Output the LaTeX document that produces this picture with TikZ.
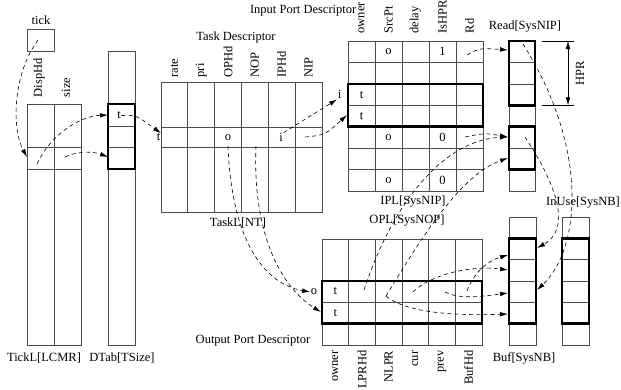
\documentclass[tikz,border=0pt]{standalone}
\usepackage{fontspec}
\setmainfont{Liberation Serif}
\usetikzlibrary{arrows.meta}
\begin{document}
\begin{tikzpicture}[x=1pt,y=-1pt,
 lbl/.style={font=\fontsize{12.5}{14}\selectfont, inner sep=0.5pt},
 vlbl/.style={lbl, rotate=90, anchor=west},
 vlblb/.style={lbl, rotate=90, anchor=east},
 gridline/.style={draw=black!70, line width=0.7pt},
 hilite/.style={draw=black, line width=2.8pt},
 link/.style={draw=black, line width=0.6pt, dash pattern=on 4pt off 3.2pt, -{Latex[length=8pt,width=4.6pt]}},
 dimline/.style={draw=black, line width=0.5pt},
]
\useasboundingbox (0,0) rectangle (621,389);

% ---------- TickL and tick ----------
\draw[gridline] (27,104) rectangle (81,345);
\draw[gridline] (54,104) -- (54,345);
\draw[gridline] (27,147) -- (81,147);
\draw[gridline] (27,169) -- (81,169);
\draw[gridline] (27,29) rectangle (54,51);
\node[lbl] (ticklbl) at (41,20) {tick};
\node[vlbl] (disphd) at (39,98) {DispHd};
\node[vlbl] (sizelbl) at (66,98) {size};
\node[lbl] (tickL) at (44,358) {TickL[LCMR]};

% ---------- DTab ----------
\draw[gridline] (108,51) rectangle (135,345);
\foreach \y in {126,147} \draw[gridline] (108,\y) -- (135,\y);
\draw[hilite] (108,104) rectangle (135,169);
\node[lbl] (dtabt) at (119,115.5) {t};
\node[lbl] (dtab) at (122,358) {DTab[TSize]};

% ---------- TaskL ----------
\draw[gridline] (161,82) rectangle (322,212);
\foreach \i in {1,...,5} \draw[gridline] ({161+26.83*\i},82) -- ({161+26.83*\i},212);
\foreach \y in {127,147} \draw[gridline] (161,\y) -- (322,\y);
\node[lbl] (taskdesc) at (236,37) {Task Descriptor};
\foreach \t [count=\i from 0] in {rate,pri,OPHd,NOP,IPHd,NIP}
  \node[vlbl] (tc\i) at ({174.4+26.83*\i},78) {\t};
\node[lbl, anchor=east] (taskt) at (161,137.5) {t};
\node[lbl] (tasko) at (228,137.5) {o};
\node[lbl] (taski) at (281,137.5) {i};
\node[lbl] (taskL) at (238,223) {TaskL[NT]};

% ---------- IPL ----------
\draw[gridline] (348,41) rectangle (483,191);
\foreach \i in {1,...,4} \draw[gridline] ({348+27*\i},41) -- ({348+27*\i},191);
\foreach \i in {1,...,6} \draw[gridline] (348,{41+21.43*\i}) -- (483,{41+21.43*\i});
\draw[hilite] (348,83.9) rectangle (483,126.7);
\node[lbl, anchor=east] (ipdesc) at (357,11) {Input Port Descriptor};
\foreach \t [count=\i from 0] in {owner,SrcPt,delay,IsHPR,Rd}
  \node[vlbl] (ic\i) at ({361.5+27*\i},34) {\t};
\node[lbl] (c1) at (388.5,51.7) {o};
\node[lbl] (c2) at (442.5,51.7) {1};
\node[lbl] (c3) at (361.5,94.6) {t};
\node[lbl] (c4) at (361.5,116) {t};
\node[lbl] (c5) at (388.5,137.4) {o};
\node[lbl] (c6) at (442.5,137.4) {0};
\node[lbl] (c7) at (388.5,180.3) {o};
\node[lbl] (c8) at (442.5,180.3) {0};
\node[lbl] (ipli) at (339.5,94.6) {i};
\node[lbl] (ipl) at (413,202) {IPL[SysNIP]};

% ---------- Read ----------
\draw[gridline] (509,41) rectangle (535,191);
\foreach \i in {1,...,6} \draw[gridline] (509,{41+21.43*\i}) -- (535,{41+21.43*\i});
\draw[hilite] (509,41) rectangle (535,105.3);
\draw[hilite] (509,126.7) rectangle (535,169.6);
\node[lbl] (read) at (525,27) {Read[SysNIP]};
\coordinate (hprT) at (568,41);
\coordinate (hprB) at (568,105.3);
\draw[dimline] (542,41) -- (574,41);
\draw[dimline] (542,105.3) -- (574,105.3);
\draw[dimline, {Latex[length=8pt,width=4.6pt]}-{Latex[length=8pt,width=4.6pt]}] (hprT) -- (hprB);
\node[lbl, rotate=90] (hpr) at (580,73) {HPR};

% ---------- OPL ----------
\draw[gridline] (322,239) rectangle (482,345);
\foreach \i in {1,...,5} \draw[gridline] ({322+26.67*\i},239) -- ({322+26.67*\i},345);
\foreach \y in {281,302.3,323.7} \draw[gridline] (322,\y) -- (482,\y);
\draw[hilite] (322,281) rectangle (482,323.7);
\node[lbl] (opl) at (407,221) {OPL[SysNOP]};
\node[lbl, anchor=east] (opdesc) at (311,341) {Output Port Descriptor};
\foreach \t [count=\i from 0] in {owner,LPRHd,NLPR,cur,prev,BufHd}
  \node[vlblb] (oc\i) at ({335.3+26.67*\i},350) {\t};
\node[lbl] (ot1) at (335.3,291.5) {t};
\node[lbl] (ot2) at (335.3,313) {t};
\node[lbl] (oplo) at (314,292) {o};

% ---------- Buf and InUse ----------
\draw[gridline] (509,217) rectangle (536,345);
\foreach \i in {1,...,5} \draw[gridline] (509,{217+21.33*\i}) -- (536,{217+21.33*\i});
\draw[hilite] (509,238.3) rectangle (536,323.7);
\node[lbl] (buf) at (524,358) {Buf[SysNB]};
\draw[gridline] (562,217) rectangle (589,345);
\foreach \i in {1,...,5} \draw[gridline] (562,{217+21.33*\i}) -- (589,{217+21.33*\i});
\draw[hilite] (562,238.3) rectangle (589,323.7);
\node[lbl] (inuse) at (583,203) {InUse[SysNB]};

% ---------- connector end points ----------
\coordinate (tickS) at (38,40);
\coordinate (tlRow) at (27,157);
\coordinate (dispS) at (37,164);
\coordinate (dtTop) at (108,115);
\coordinate (sizeS) at (65,157);
\coordinate (dtRow) at (108,157);
\coordinate (nipS) at (305,137);
\coordinate (iplRow4) at (347,115);
\coordinate (ophdS) at (228,146);
\coordinate (nopS) at (256,146);
\coordinate (oplRow2) at (321,312);
\coordinate (rd1) at (467,55);
\coordinate (read1) at (508,50);
\coordinate (rd5) at (465,137);
\coordinate (read5) at (508,137);
\coordinate (read6) at (508,158);
\coordinate (lprS) at (364,290);
\coordinate (nlprS) at (386,296);
\coordinate (curS) at (413,292);
\coordinate (prevS) at (445,292);
\coordinate (bufhdS) at (467,291);
\coordinate (buf1) at (508,255);
\coordinate (buf2) at (508,270);
\coordinate (buf3) at (508,293);
\coordinate (buf4) at (508,314);
\coordinate (rdR1) at (523,44);
\coordinate (rdR5) at (525,137);
\coordinate (bufR1) at (537,248);
\coordinate (bufR3) at (537,290);

% ---------- connectors ----------
\draw[link] (tickS) .. controls (12,75) and (12,130) .. (tlRow);
\draw[link] (dispS) .. controls (50,135) and (80,116) .. (dtTop);
\draw[link] (sizeS) .. controls (80,150) and (95,152) .. (dtRow);
\draw[link] (dtabt.east) .. controls (136,115) .. (taskt.north east);
\draw[link] (taski.north east) -- (ipli.south west);
\draw[link] (nipS) .. controls (325,135) .. (iplRow4);
\draw[link] (ophdS) .. controls (232,250) and (270,285) .. (oplo.west);
\draw[link] (nopS) .. controls (252,240) and (285,290) .. (oplRow2);
\draw[link] (rd1) .. controls (480,48) .. (read1);
\draw[link] (rd5) .. controls (485,133) .. (read5);
\draw[link] (lprS) .. controls (390,210) and (440,140) .. (read5);
\draw[link] (nlprS) .. controls (420,240) and (460,175) .. (read6);
\draw[link] (nlprS) .. controls (405,312) and (450,316) .. (buf4);
\draw[link] (curS) .. controls (430,275) and (470,265) .. (buf2);
\draw[link] (prevS) .. controls (460,300) and (485,296) .. (buf3);
\draw[link] (bufhdS) .. controls (475,270) and (490,260) .. (buf1);
\draw[link] (rdR1) .. controls (590,150) and (580,250) .. (bufR3);
\draw[link] (rdR5) .. controls (560,190) and (570,230) .. (bufR1);
\end{tikzpicture}
\end{document}
